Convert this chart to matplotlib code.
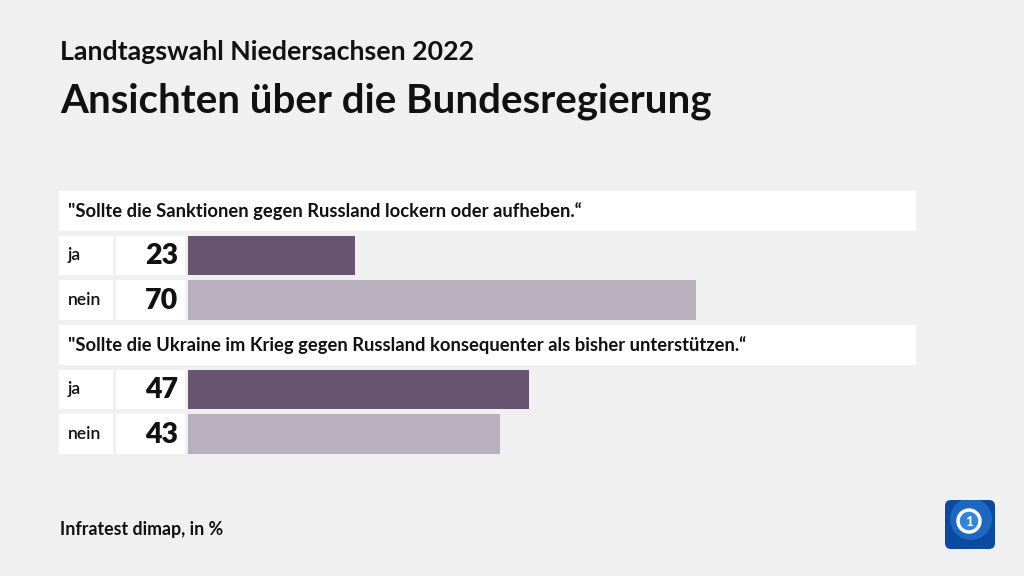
import matplotlib.pyplot as plt
from matplotlib.patches import Rectangle, FancyBboxPatch, Circle

plt.rcParams['font.family'] = ['Lato', 'DejaVu Sans']

# data
questions = ['"Sollte die Sanktionen gegen Russland lockern oder aufheben.\u201c',
             '"Sollte die Ukraine im Krieg gegen Russland konsequenter als bisher unterstützen.\u201c']
answers = ['ja', 'nein']
values = [[23, 70], [47, 43]]

bg = '#f0f0f0'
dark = '#665470'
light = '#b8b0bc'

W, H = 1024, 576
fig = plt.figure(figsize=(W / 100, H / 100), dpi=100, facecolor=bg)

# full-figure axes in pixel coordinates for boxes and text
ax = fig.add_axes([0, 0, 1, 1])
ax.set_xlim(0, W)
ax.set_ylim(H, 0)
ax.axis('off')

# bar axes: x in percent, y in pixels
bx = fig.add_axes([188 / W, 0, 726 / W, 1])
bx.set_xlim(0, 100)
bx.set_ylim(H, 0)
bx.axis('off')
bx.patch.set_alpha(0)

ax.text(60, 60, 'Landtagswahl Niedersachsen 2022', fontsize=19.3, fontweight='bold',
        va='baseline', ha='left', color='#111111')
ax.text(60, 112, 'Ansichten über die Bundesregierung', fontsize=29, fontweight='bold',
        va='baseline', ha='left', color='#111111')

block_tops = [191, 325]
row_h = 39.5
for q, top, vals in zip(questions, block_tops, values):
    ax.add_patch(Rectangle((59, top), 857, row_h, facecolor='white', edgecolor='none'))
    ax.text(68, top + row_h / 2, q, fontsize=13.2, fontweight='bold', va='center',
            ha='left', color='#111111')
    for i, (ans, v) in enumerate(zip(answers, vals)):
        y0 = top + (i + 1) * 44.7
        yc = y0 + row_h / 2
        ax.add_patch(Rectangle((59, y0), 54, row_h, facecolor='white', edgecolor='none'))
        ax.add_patch(Rectangle((116, y0), 69, row_h, facecolor='white', edgecolor='none'))
        ax.text(68, yc, ans, fontsize=12.5, fontweight='semibold', va='center', ha='left',
                color='#111111')
        ax.text(178, yc + 1, str(v), fontsize=20.5, fontweight='heavy', va='center',
                ha='right', color='#111111')
        bx.barh(yc, v, height=row_h, left=0, color=dark if i == 0 else light)

ax.text(60, 535, 'Infratest dimap, in %', fontsize=12.8, fontweight='bold',
        va='baseline', ha='left', color='#111111')

# logo
box = FancyBboxPatch((945, 500), 50, 49, boxstyle='round,pad=0,rounding_size=6',
                     facecolor='#0b4a9e', edgecolor='none')
ax.add_patch(box)
globe = Circle((971, 519), 21, facecolor='#1f6cc4', edgecolor='none', alpha=0.9)
ax.add_patch(globe)
globe.set_clip_path(box)
ax.add_patch(Circle((969, 521), 11, facecolor='#2f86dc', edgecolor='white', linewidth=2.5))
ax.text(969, 522, '1', fontsize=10, fontweight='bold', color='white', ha='center', va='center')

fig.savefig('out.png', dpi=100, facecolor=bg)
